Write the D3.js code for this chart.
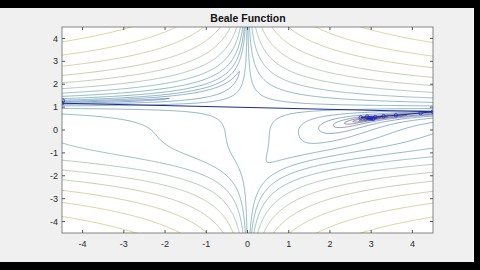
<!DOCTYPE html>
<html>
<head>
<meta charset="utf-8">
<script src="https://cdn.jsdelivr.net/npm/d3@7"></script>
<style>
  html, body { margin: 0; padding: 0; background: #000; }
  svg { display: block; }
</style>
</head>
<body>
<script>
// contour levels of log(f), roughly one unit apart
var LEVELS = [-7.9, -6.9, -5.9, -4.9, -3.9, -2.9, -1.9, -0.9, 0.1, 1.1, 2.1, 3.1, 4.1, 5.1, 6.1, 7.1, 8.1, 9.1, 10.1, 11.1];
var X_TICKS = [-4, -3, -2, -1, 0, 1, 2, 3, 4];
var Y_TICKS = [-4, -3, -2, -1, 0, 1, 2, 3, 4];
// optimiser path
var PATH_X = [-4.48, -4.5, 4.5, 4.2, 3.6, 3.3, 3.1, 2.9, 2.75, 2.95, 3.05, 3.0];
var PATH_Y = [1.28, 1.17, 0.8, 0.74, 0.64, 0.6, 0.56, 0.58, 0.55, 0.51, 0.49, 0.5];

var W = 480, H = 270;
var plot = {left: 62, right: 433, top: 27, bottom: 233};

var parula = d3.interpolateRgbBasis(["#352a87", "#0f5cdd", "#1481d6", "#06a4ca", "#2eb7a4", "#87bf77", "#d1bb59", "#fec832", "#f9fb0e"]);
var cmin = -2, cmax = 12.1;

// washed-out parula, like the thin lines in the screenshot
var lineColor = function(v) {
	var c = d3.hsl(parula(Math.max(0, Math.min(1, (v - cmin) / (cmax - cmin)))));
	c.s *= 0.5;
	return c.toString();
};

var beale = function(x, y) {
	var a = 1.5 - x + x * y, b = 2.25 - x + x * y * y, c = 2.625 - x + x * y * y * y;
	return a * a + b * b + c * c;
};

var svg = d3.select("body").append("svg").attr("width", W).attr("height", H);

// figure background
svg.append("rect").attr("x", 0).attr("y", 8).attr("width", 474).attr("height", 254).attr("fill", "#f0f0f0");
svg.append("line").attr("x1", 473.5).attr("x2", 473.5).attr("y1", 8).attr("y2", 262).attr("stroke", "#fbfbfb");

var x = d3.scaleLinear().domain([-4.5, 4.5]).range([plot.left, plot.right]);
var y = d3.scaleLinear().domain([-4.5, 4.5]).range([plot.bottom, plot.top]);

svg.append("rect").attr("x", plot.left).attr("y", plot.top)
	.attr("width", plot.right - plot.left).attr("height", plot.bottom - plot.top).attr("fill", "#fff");

svg.append("defs").append("clipPath").attr("id", "clip").append("rect")
	.attr("x", plot.left).attr("y", plot.top)
	.attr("width", plot.right - plot.left).attr("height", plot.bottom - plot.top);

// grid a bit larger than the axes so the closing edges fall outside the clip
var g0 = -4.7, step = 0.025, n = Math.round(9.4 / step) + 1;
var values = new Array(n * n);
for (var j = 0; j < n; j++) {
	for (var i = 0; i < n; i++) {
		values[j * n + i] = Math.log(Math.max(beale(g0 + i * step, g0 + j * step), 1e-12));
	}
}

var contours = d3.contours().size([n, n]).thresholds(LEVELS)(values);

var proj = d3.geoTransform({
	point: function(px, py) {
		this.stream.point(x(g0 + (px - 0.5) * step), y(g0 + (py - 0.5) * step));
	}
});
var path = d3.geoPath(proj);

svg.append("g").attr("clip-path", "url(#clip)")
	.selectAll("path")
	.data(contours)
	.enter()
	.append("path")
	.attr("d", path)
	.attr("fill", "none")
	.attr("stroke", d => lineColor(d.value))
	.attr("stroke-opacity", 0.85)
	.attr("stroke-width", 0.7);

// optimiser path
var pts = PATH_X.map((d, i) => [d, PATH_Y[i]]);
var pathG = svg.append("g").attr("clip-path", "url(#clip)");
pathG.append("path")
	.attr("d", d3.line().x(d => x(d[0])).y(d => y(d[1]))(pts))
	.attr("fill", "none")
	.attr("stroke", "#1c2a8c")
	.attr("stroke-width", 1);
pathG.selectAll("circle")
	.data(pts)
	.enter()
	.append("circle")
	.attr("cx", d => x(d[0]))
	.attr("cy", d => y(d[1]))
	.attr("r", 1.8)
	.attr("fill", "none")
	.attr("stroke", "#1a2ad0")
	.attr("stroke-width", 0.8);

// axes box and ticks
svg.append("rect").attr("x", plot.left).attr("y", plot.top)
	.attr("width", plot.right - plot.left).attr("height", plot.bottom - plot.top)
	.attr("fill", "none").attr("stroke", "#6a6a6a").attr("stroke-width", 0.8);

var ax = svg.append("g").style("font-family", "'Liberation Sans', Arial, sans-serif").style("font-size", "9px").attr("fill", "#2a2a2a");
X_TICKS.forEach(function(t) {
	ax.append("line").attr("x1", x(t)).attr("x2", x(t)).attr("y1", plot.bottom).attr("y2", plot.bottom - 3).attr("stroke", "#555");
	ax.append("line").attr("x1", x(t)).attr("x2", x(t)).attr("y1", plot.top).attr("y2", plot.top + 3).attr("stroke", "#555");
	ax.append("text").attr("x", x(t)).attr("y", 247).attr("text-anchor", "middle").text(t);
});
Y_TICKS.forEach(function(t) {
	ax.append("line").attr("y1", y(t)).attr("y2", y(t)).attr("x1", plot.left).attr("x2", plot.left + 3).attr("stroke", "#555");
	ax.append("line").attr("y1", y(t)).attr("y2", y(t)).attr("x1", plot.right).attr("x2", plot.right - 3).attr("stroke", "#555");
	ax.append("text").attr("x", 58).attr("y", y(t)).attr("dy", "0.35em").attr("text-anchor", "end").text(t);
});

svg.append("text")
	.attr("x", 248).attr("y", 22)
	.attr("text-anchor", "middle")
	.style("font-family", "'Liberation Sans', Arial, sans-serif")
	.style("font-size", "10.5px").style("font-weight", "bold")
	.attr("fill", "#111")
	.text("Beale Function");
</script>
</body>
</html>
